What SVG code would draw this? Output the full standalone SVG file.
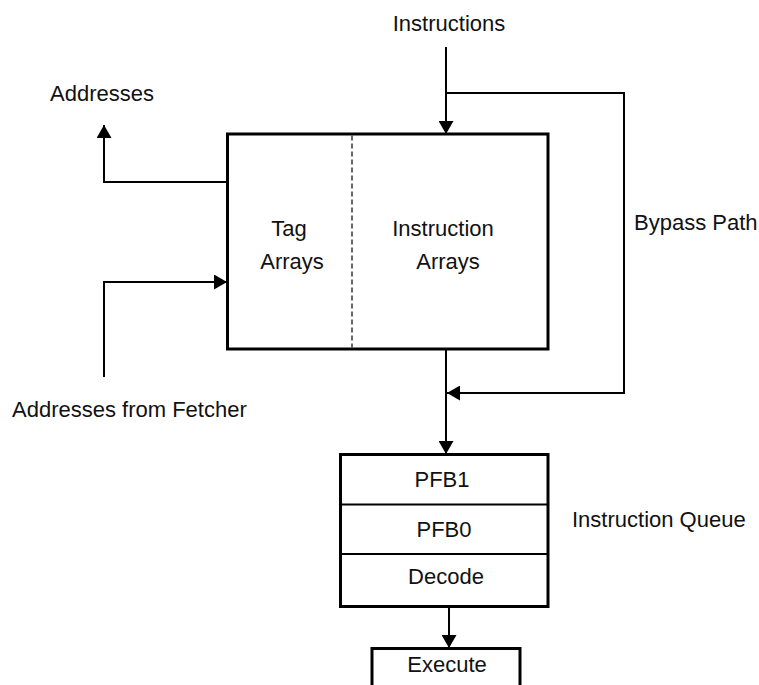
<svg xmlns="http://www.w3.org/2000/svg" width="759" height="685" viewBox="0 0 759 685">
<style>
text{font-family:"Liberation Sans",Arial,Helvetica,sans-serif;font-size:22px;fill:#111}
.box{fill:#fff;stroke:#000;stroke-width:3}
.div{stroke:#000;stroke-width:2;fill:none}
.dash{stroke:#333;stroke-width:1.5;stroke-dasharray:5 3;fill:none}
.conn{stroke:#000;stroke-width:2;fill:none;marker-end:url(#arr)}
.line{stroke:#000;stroke-width:2;fill:none}
.m{text-anchor:middle}
</style>
<defs>
<marker id="arr" markerUnits="userSpaceOnUse" markerWidth="14" markerHeight="15" refX="13" refY="7.5" orient="auto">
<path d="M0,0 L13,7.5 L0,15 Z" fill="#000"/>
</marker>
</defs>
<rect width="759" height="685" fill="#fff"/>
<g id="connectors">
<path class="conn" d="M446,47 V134"/>
<path class="conn" d="M446,93 H624 V393 H447"/>
<path class="conn" d="M446,349 V454"/>
<path class="conn" d="M227,182 H104 V125"/>
<path class="conn" d="M104,377 V282 H227"/>
<path class="conn" d="M449,607 V648"/>
</g>
<g id="cache">
<rect class="box" x="227.5" y="134" width="320.5" height="215"/>
<line class="dash" x1="352" y1="135.5" x2="352" y2="347.5"/>
<text x="289" y="236" class="m">Tag</text>
<text x="292" y="269" class="m">Arrays</text>
<text x="443" y="236" class="m">Instruction</text>
<text x="448" y="269" class="m">Arrays</text>
</g>
<g id="queue">
<rect class="box" x="340.5" y="454.5" width="207.5" height="152"/>
<line class="div" x1="340.5" y1="504.5" x2="548" y2="504.5"/>
<line class="div" x1="340.5" y1="554" x2="548" y2="554"/>
<text x="442" y="487" class="m">PFB1</text>
<text x="444" y="537" class="m">PFB0</text>
<text x="446" y="584" class="m">Decode</text>
</g>
<g id="execute">
<path d="M372,690 V648.5 H520 V690" fill="#fff" stroke="#000" stroke-width="3"/>
<text x="447" y="672" class="m">Execute</text>
</g>
<g id="labels">
<text x="449" y="31" class="m">Instructions</text>
<text x="50" y="101">Addresses</text>
<text x="12" y="417">Addresses from Fetcher</text>
<text x="634" y="230">Bypass Path</text>
<text x="572" y="527">Instruction Queue</text>
</g>
</svg>
